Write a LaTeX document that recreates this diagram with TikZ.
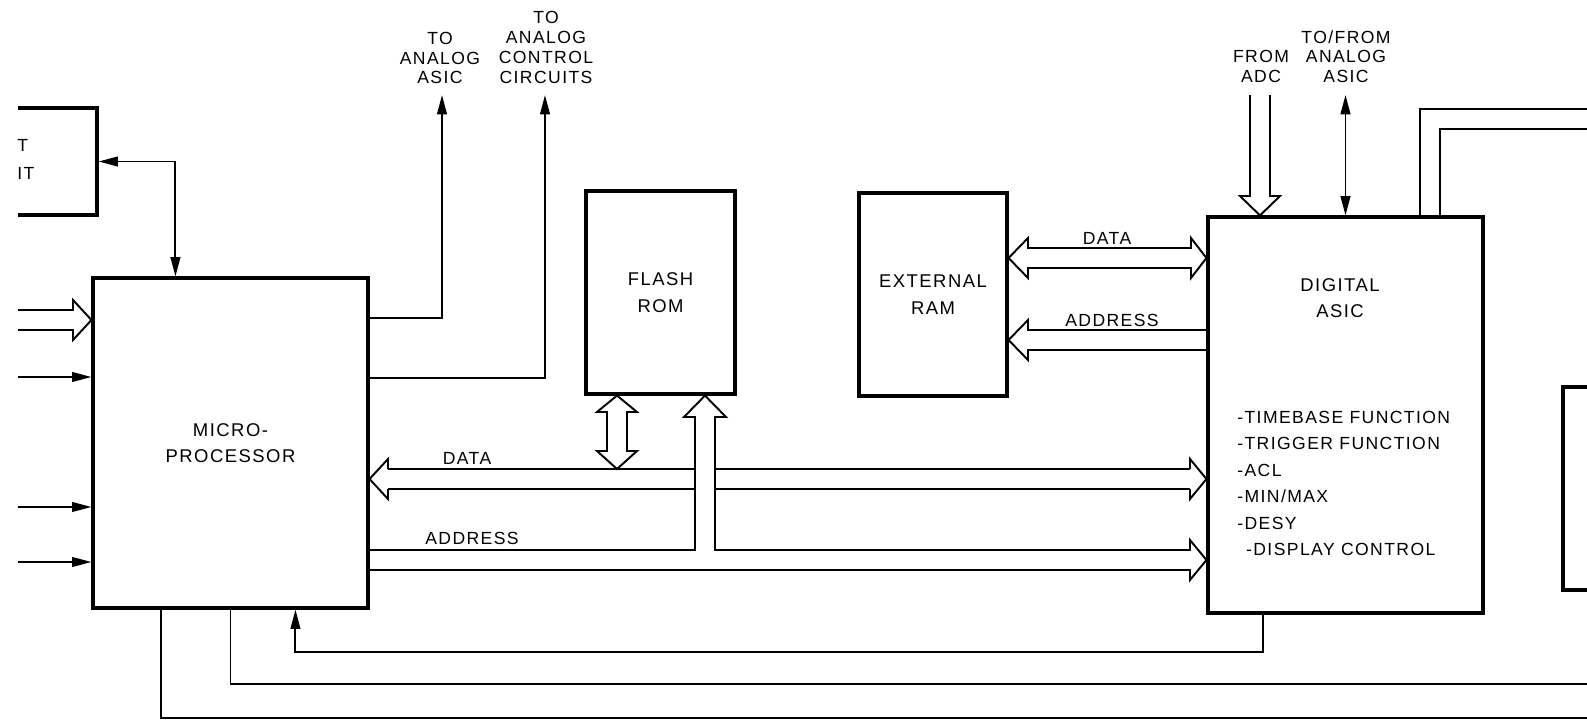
\documentclass[tikz,border=0pt]{standalone}
\usepackage{fontspec}
\setmainfont{Liberation Sans}[LetterSpace=8]
\usetikzlibrary{arrows.meta,calc}
\tikzset{
  blk/.style={draw,line width=1.8pt,inner sep=0pt,align=center,font=\fontsize{10.5}{15}\selectfont},
  lbl/.style={inner sep=0pt,align=center,font=\fontsize{10}{11.34}\selectfont},
  buslbl/.style={inner sep=0pt,font=\fontsize{10}{12}\selectfont},
  wire/.style={line width=1.1pt},
  tip/.style={-{Triangle[length=11pt,width=5.5pt]}},
  tips/.style={{Triangle[length=11pt,width=5.5pt]}-{Triangle[length=11pt,width=5.5pt]}},
  bus/.style={line width=1.1pt,line join=miter},
}
\begin{document}
\begin{tikzpicture}[x=0.02cm,y=-0.02cm]
\useasboundingbox[fill=white] (0,0) rectangle (1587,720);
\begin{scope}
\clip (18,-5) rectangle (1587,725);
% blocks
\node[blk,minimum width=3.14cm,minimum height=2.14cm] (inbox) at (18.5,161.5) {};
\node[blk,minimum width=5.5cm,minimum height=6.6cm] (mp) at (230.5,443) {MICRO-\\PROCESSOR};
\node[blk,minimum width=2.98cm,minimum height=4.06cm] (flash) at (660.5,292.5) {FLASH\\ROM};
\node[blk,minimum width=2.96cm,minimum height=4.06cm] (ram) at (933,294.5) {EXTERNAL\\RAM};
\node[blk,minimum width=5.5cm,minimum height=7.92cm] (asic) at (1345.5,415) {};
\node[blk,minimum width=1.74cm,minimum height=4.06cm] (rbox) at (1606.5,488.5) {};
% free ends
\coordinate (inA) at (18,377);
\coordinate (inB) at (18,507);
\coordinate (inC) at (18,562);
\coordinate (outA) at (442,95);
\coordinate (outB) at (545,95);
\coordinate (tfTop) at (1345.5,95);
\coordinate (bEnd1) at (1600,718);
\coordinate (bEnd2) at (1600,684);
\coordinate (rEnd1) at (1600,109);
\coordinate (rEnd2) at (1600,129);
% single signals
\draw[wire,tips] (inbox.east) -| ($(mp.north west)+(84,0)$);
\draw[wire,tip] (inA) -- (mp.west |- inA);
\draw[wire,tip] (inB) -- (mp.west |- inB);
\draw[wire,tip] (inC) -- (mp.west |- inC);
\draw[wire,tip] (mp.east |- 0,318) -| (outA);
\draw[wire,tip] (mp.east |- 0,378) -| (outB);
\draw[wire] ($(mp.south west)+(70,0)$) |- (bEnd1);
\draw[wire] (mp.south) |- (bEnd2);
\draw[wire,tip] ($(asic.south west)+(57,0)$) -- ++(0,37) -| ($(mp.south west)+(204,0)$);
\draw[wire,tips] (tfTop) -- (asic.north);
\draw[wire] ($(asic.north west)+(214,0)$) |- (rEnd1);
\draw[wire] ($(asic.north west)+(234,0)$) |- (rEnd2);
% input bus
\draw[bus] (18,310) -- (73,310) -- (73,300) -- (mp.west |- 0,320) -- (73,340) -- (73,330) -- (18,330);
% data bus
\draw[bus] (388,469) -- (695,469) (715,469) -- (1190,469);
\draw[bus] (388,489) -- (695,489) (715,489) -- (1190,489);
\draw[bus] (388,469) -- (388,459) -- (mp.east |- 0,479) -- (388,499) -- (388,489);
\draw[bus] (1190,469) -- (1190,459) -- (asic.west |- 0,479) -- (1190,499) -- (1190,489);
% address bus with branch to flash
\draw[bus] (mp.east |- 0,550) -- (695,550) -- (695,417) -- (684,417) -- (flash.south -| 705,0) -- (726,417) -- (715,417) -- (715,550) -- (1190,550) -- (1190,540) -- (asic.west |- 0,560) -- (1190,580) -- (1190,570) -- (mp.east |- 0,570);
% flash data double arrow
\draw[bus] (flash.south -| 617,0) -- (637,412) -- (627,412) -- (627,451) -- (637,451) -- (617,469) -- (597,451) -- (607,451) -- (607,412) -- (597,412) -- cycle;
% RAM data
\draw[bus] (ram.east |- 0,258) -- (1028,238) -- (1028,248) -- (1191,248) -- (1191,238) -- (asic.west |- 0,258) -- (1191,278) -- (1191,268) -- (1028,268) -- (1028,278) -- cycle;
% RAM address
\draw[bus] (asic.west |- 0,330) -- (1028,330) -- (1028,320) -- (ram.east |- 0,340) -- (1028,360) -- (1028,350) -- (asic.west |- 0,350);
% from ADC
\draw[bus] (1250,95) -- (1250,196) -- (1240,196) -- (asic.north -| 1260,0) -- (1280,196) -- (1270,196) -- (1270,95);
\end{scope}
% texts
\node[buslbl,anchor=west] (t1) at (17,145) {T};
\node[buslbl,anchor=west] (t2) at (17,173) {IT};
\node[lbl] (lA) at (440,58) {TO\\ANALOG\\ASIC};
\node[lbl] (lB) at (546,47.5) {TO\\ANALOG\\CONTROL\\CIRCUITS};
\node[lbl] (lC) at (1261,66.7) {FROM\\ADC};
\node[lbl] (lD) at (1346,56.7) {TO/FROM\\ANALOG\\ASIC};
\node[buslbl] (d1) at (467,458) {DATA};
\node[buslbl] (a1) at (472,538) {ADDRESS};
\node[buslbl] (d2) at (1107,238) {DATA};
\node[buslbl] (a2) at (1112,320) {ADDRESS};
\node[inner sep=0pt,align=center,font=\fontsize{10.5}{15}\selectfont] (asicT) at (1340,298) {DIGITAL\\ASIC};
\node[inner sep=0pt,align=left,anchor=north west,font=\fontsize{10}{15.1}\selectfont] (asicL) at (1237,410.5) {-TIMEBASE FUNCTION\\-TRIGGER FUNCTION\\-ACL\\-MIN/MAX\\-DESY\\\hspace*{5pt}-DISPLAY CONTROL};
\end{tikzpicture}
\end{document}
